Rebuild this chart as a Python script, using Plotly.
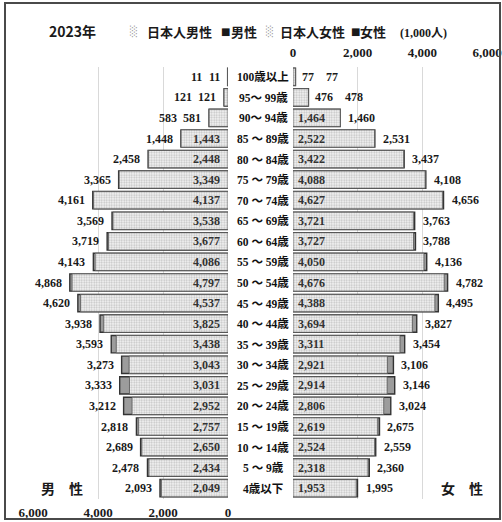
import plotly.graph_objects as go

# Age groups, top (oldest) to bottom (youngest)
age_labels = [
    "100歳以上", "95～ 99歳", "90～ 94歳", "85 ～ 89歳", "80 ～ 84歳",
    "75 ～ 79歳", "70 ～ 74歳", "65 ～ 69歳", "60 ～ 64歳", "55 ～ 59歳",
    "50 ～ 54歳", "45 ～ 49歳", "40 ～ 44歳", "35 ～ 39歳", "30 ～ 34歳",
    "25 ～ 29歳", "20 ～ 24歳", "15 ～ 19歳", "10 ～ 14歳", "5 ～ 9歳", "4歳以下",
]

# Population in thousands
male_total = [11, 121, 583, 1448, 2458, 3365, 4161, 3569, 3719, 4143, 4868,
              4620, 3938, 3593, 3273, 3333, 3212, 2818, 2689, 2478, 2093]
male_japanese = [11, 121, 581, 1443, 2448, 3349, 4137, 3538, 3677, 4086, 4797,
                 4537, 3825, 3438, 3043, 3031, 2952, 2757, 2650, 2434, 2049]
female_total = [77, 478, 1460, 2531, 3437, 4108, 4656, 3763, 3788, 4136, 4782,
                4495, 3827, 3454, 3106, 3146, 3024, 2675, 2559, 2360, 1995]
female_japanese = [77, 476, 1464, 2522, 3422, 4088, 4627, 3721, 3727, 4050, 4676,
                   4388, 3694, 3311, 2921, 2914, 2806, 2619, 2524, 2318, 1953]

tick_values = [0, 2000, 4000, 6000]
tick_labels = ["0", "2,000", "4,000", "6,000"]

W, H = 502, 522
NUM_FONT = "Liberation Serif, Noto Sans CJK JP"
JP_FONT = "Noto Sans CJK JP, Noto Sans"
LABEL_SIZE = 12


def px(x):
    return x / W


def py(y):
    return 1 - y / H


def fmt(v):
    return f"{v:,}"


def text_w(s, size=LABEL_SIZE):
    return sum(0.25 * size if c == "," else 0.5 * size for c in s)


total_style = dict(color="#9c9c9c", line=dict(color="#333333", width=1.4))
japanese_style = dict(
    color="#eeeeee",
    pattern=dict(shape=".", fgcolor="#8e8e8e", bgcolor="#f6f6f6", size=2.5, solidity=0.45),
    line=dict(color="#555555", width=0.8),
)

fig = go.Figure()
for name, vals, style, xa in [
    ("男性", male_total, total_style, "x"),
    ("日本人男性", male_japanese, japanese_style, "x"),
    ("女性", female_total, total_style, "x2"),
    ("日本人女性", female_japanese, japanese_style, "x2"),
]:
    fig.add_trace(go.Bar(
        y=age_labels, x=vals, orientation="h", name=name,
        xaxis=xa, yaxis="y", width=0.84, marker=style, showlegend=False,
    ))

annotations = []
label_font = dict(family=NUM_FONT, size=LABEL_SIZE, color="#1a1a1a", weight="bold")
inner_font = dict(family=NUM_FONT, size=LABEL_SIZE, color="#333333", weight="bold")

# Male value labels (left, reversed axis)
for age, mt, mj in zip(age_labels, male_total, male_japanese):
    jt, tt = fmt(mj), fmt(mt)
    if mj >= 1000:
        annotations.append(dict(x=0, y=age, xref="x", yref="y", text=jt, showarrow=False,
                                xanchor="right", xshift=-6, font=inner_font))
        t_shift = -6
    else:
        annotations.append(dict(x=mj, y=age, xref="x", yref="y", text=jt, showarrow=False,
                                xanchor="right", xshift=-6, font=label_font))
        t_shift = -6 - text_w(jt) - 6
    annotations.append(dict(x=mt, y=age, xref="x", yref="y", text=tt, showarrow=False,
                            xanchor="right", xshift=t_shift, font=label_font))

# Female value labels (right)
for age, ft, fj in zip(age_labels, female_total, female_japanese):
    jt, tt = fmt(fj), fmt(ft)
    if fj >= 1000:
        annotations.append(dict(x=0, y=age, xref="x2", yref="y", text=jt, showarrow=False,
                                xanchor="left", xshift=3, font=inner_font))
        t_shift = 6
    else:
        annotations.append(dict(x=fj, y=age, xref="x2", yref="y", text=jt, showarrow=False,
                                xanchor="left", xshift=5, font=label_font))
        t_shift = 5 + text_w(jt) + 12
    annotations.append(dict(x=ft, y=age, xref="x2", yref="y", text=tt, showarrow=False,
                            xanchor="left", xshift=t_shift, font=label_font))

# Age group labels in the centre column
for age in age_labels:
    annotations.append(dict(x=px(263), y=age, xref="paper", yref="y", text=age,
                            showarrow=False, xanchor="center",
                            font=dict(family=NUM_FONT, size=11.5, color="#111111", weight="bold")))

# Header: year, legend and unit
hdr = dict(family=JP_FONT, size=13, color="#1a1a1a", weight="bold")
header_items = [
    (px(47), "2023年", "left", dict(family=JP_FONT, size=14, color="#1a1a1a", weight="bold")),
    (px(128), "░", "left", dict(family="DejaVu Sans", size=10, color="#9a9a9a")),
    (px(145), "日本人男性", "left", hdr),
    (px(219), "■", "left", dict(family="DejaVu Sans", size=10, color="#1a1a1a")),
    (px(229), "男性", "left", hdr),
    (px(264), "░", "left", dict(family="DejaVu Sans", size=10, color="#9a9a9a")),
    (px(278), "日本人女性", "left", hdr),
    (px(349), "■", "left", dict(family="DejaVu Sans", size=10, color="#1a1a1a")),
    (px(358), "女性", "left", hdr),
]
for x, txt, anc, f in header_items:
    annotations.append(dict(x=x, y=py(31), xref="paper", yref="paper", text=txt,
                            showarrow=False, xanchor=anc, yanchor="middle", font=f))
annotations.append(dict(x=px(423), y=py(33), xref="paper", yref="paper", text="(1,000人)",
                        showarrow=False, xanchor="center", yanchor="middle",
                        font=dict(family=NUM_FONT, size=12, color="#1a1a1a", weight="bold")))

# Side captions
for x, txt in [(px(62), "男　性"), (px(462), "女　性")]:
    annotations.append(dict(x=x, y=py(488), xref="paper", yref="paper", text=txt,
                            showarrow=False, xanchor="center", yanchor="middle",
                            font=dict(family=JP_FONT, size=14, color="#1a1a1a", weight="bold")))

tick_font = dict(family=NUM_FONT, size=13, color="#1a1a1a", weight="bold")
axis_common = dict(
    tickvals=tick_values, ticktext=tick_labels, showgrid=True, gridcolor="#d9d9d9",
    gridwidth=1, zeroline=False, showline=False, ticks="", tickfont=tick_font,
    anchor="y", fixedrange=True, automargin=False,
)

fig.update_layout(
    width=W, height=H,
    margin=dict(l=0, r=0, t=0, b=0),
    paper_bgcolor="white", plot_bgcolor="white",
    barmode="overlay", bargap=0.16,
    xaxis=dict(domain=[px(33), px(228)], range=[6000, 0], side="bottom",
               ticklabelstandoff=4, **axis_common),
    xaxis2=dict(domain=[px(293), px(487)], range=[0, 6000], side="top",
                ticklabelstandoff=6, **axis_common),
    yaxis=dict(domain=[py(498.5), py(66.5)], autorange="reversed",
               showticklabels=False, showgrid=False, zeroline=False, showline=False,
               type="category", fixedrange=True, automargin=False),
    annotations=annotations,
    shapes=[dict(type="rect", xref="paper", yref="paper", layer="above",
                 x0=px(5), x1=px(500), y0=py(519), y1=py(3),
                 line=dict(color="#4a4a4a", width=2))],
)

fig.write_html("out.html")
